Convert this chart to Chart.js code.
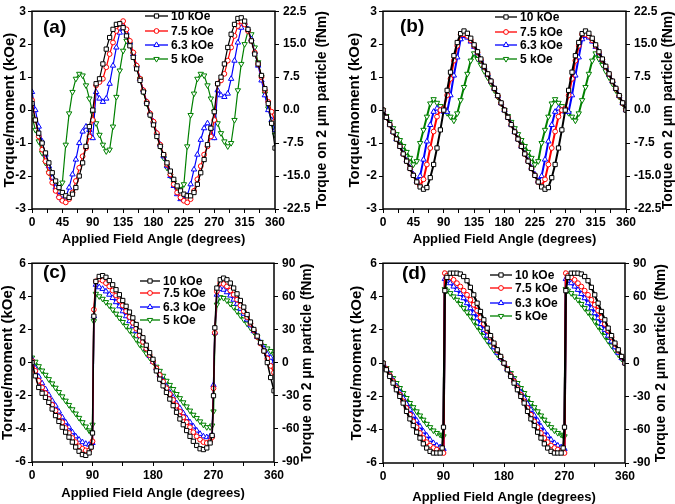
<!DOCTYPE html>
<html>
<head>
<meta charset="utf-8">
<script src="https://cdn.jsdelivr.net/npm/chart.js@4.4.1/dist/chart.umd.min.js"></script>
<style>
body{margin:0;width:675px;height:504px;overflow:hidden;background:#fff;position:relative}
.panel{position:absolute;width:337px;height:252px}
.panel canvas{display:block}
</style>
</head>
<body>
<div class="panel" style="left:0;top:0"><canvas id="chartA" width="337" height="252"></canvas></div>
<div class="panel" style="left:338px;top:0"><canvas id="chartB" width="337" height="252"></canvas></div>
<div class="panel" style="left:0;top:252px"><canvas id="chartC" width="337" height="252"></canvas></div>
<div class="panel" style="left:338px;top:252px"><canvas id="chartD" width="337" height="252"></canvas></div>
<script>
// applied field angle (degrees)
const anglesAB=[0,5,10,15,20,25,30,35,40,45,50,55,60,65,70,75,80,85,
90,95,100,105,110,115,120,125,130,135,140,145,150,155,160,165,170,175,
180,185,190,195,200,205,210,215,220,225,230,235,240,245,250,255,260,265,
270,275,280,285,290,295,300,305,310,315,320,325,330,335,340,345,350,355,
360];
const anglesCD=[0,5,10,15,20,25,30,35,40,45,50,55,60,65,70,75,80,85,
88,90,92,
95,100,105,110,115,120,125,130,135,140,145,150,155,160,165,170,175,
180,185,190,195,200,205,210,215,220,225,230,235,240,245,250,255,260,265,
268,270,272,
275,280,285,290,295,300,305,310,315,320,325,330,335,340,345,350,355,360];

// panel (a), torque/moment in kOe
const a10=[0.2,-0.3,-0.7,-1.0,-1.3,-1.6,-1.9,-2.15,-2.35,-2.5,-2.6,-2.65,-2.55,-2.35,-2.0,-1.6,-1.1,-0.5,
0.0,0.8,0.95,1.4,1.85,2.2,2.45,2.6,2.62,2.5,2.25,1.95,1.6,1.25,0.9,0.55,0.2,-0.15,
-0.45,-0.8,-1.1,-1.35,-1.6,-1.85,-2.1,-2.3,-2.45,-2.55,-2.6,-2.6,-2.5,-2.25,-1.9,-1.5,-1.05,-0.55,
-0.05,0.8,1.0,1.4,1.9,2.3,2.6,2.78,2.8,2.7,2.45,2.1,1.7,1.4,1.05,0.65,0.2,-0.4,
-1.15];
const a75=[0.3,-0.3,-0.8,-1.2,-1.55,-1.9,-2.2,-2.45,-2.65,-2.75,-2.8,-2.7,-2.5,-2.15,-1.75,-1.4,-1.15,-0.8,
-0.3,0.75,0.85,0.95,1.3,1.7,2.05,2.4,2.62,2.7,2.45,2.1,1.75,1.35,0.95,0.6,0.25,-0.1,
-0.35,-0.7,-1.05,-1.35,-1.65,-1.95,-2.25,-2.5,-2.65,-2.75,-2.8,-2.7,-2.45,-2.1,-1.7,-1.35,-1.1,-0.8,
-0.3,0.8,0.9,1.1,1.5,1.9,2.25,2.55,2.7,2.6,2.4,2.1,1.75,1.4,1.0,0.6,0.25,-0.05,
-0.35];
const a63=[0.55,0.0,-0.5,-0.95,-1.35,-1.7,-2.05,-2.35,-2.6,-2.72,-2.65,-2.35,-1.95,-1.5,-1.0,-0.65,-0.5,-0.6,
-0.85,0.55,0.35,0.25,0.35,0.8,1.35,1.9,2.35,2.5,2.35,2.05,1.7,1.35,0.95,0.6,0.25,-0.1,
-0.35,-0.7,-1.05,-1.4,-1.7,-2.0,-2.3,-2.55,-2.7,-2.72,-2.6,-2.25,-1.8,-1.35,-0.9,-0.55,-0.4,-0.55,
-0.85,0.6,0.45,0.4,0.5,0.95,1.5,2.05,2.5,2.65,2.45,2.15,1.75,1.35,0.9,0.45,0.0,-0.3,
-0.6];
const a5=[-0.2,-0.6,-0.95,-1.3,-1.6,-1.9,-2.1,-2.25,-2.35,-2.2,-1.05,-0.1,0.55,0.95,1.1,1.05,0.75,0.35,
-0.1,-0.4,-0.75,-1.05,-1.25,-1.2,-0.5,0.4,1.2,1.8,2.1,2.0,1.7,1.3,0.95,0.55,0.2,-0.15,
-0.4,-0.75,-1.1,-1.45,-1.75,-2.0,-2.2,-2.35,-2.4,-2.25,-1.1,-0.15,0.5,0.95,1.1,1.05,0.75,0.35,
-0.05,-0.4,-0.7,-0.95,-1.1,-1.0,-0.3,0.6,1.4,2.0,2.4,2.3,1.9,1.45,1.0,0.5,0.05,-0.4,
-0.75];

// panel (b)
const b10=[0,-0.22,-0.44,-0.66,-0.88,-1.1,-1.33,-1.55,-1.77,-1.98,-2.18,-2.33,-2.4,-2.35,-2.05,-1.65,-1.15,-0.6,
0.0,0.6,1.15,1.65,2.05,2.32,2.4,2.33,2.18,1.98,1.77,1.55,1.33,1.1,0.88,0.66,0.44,0.22,
0.0,-0.22,-0.44,-0.66,-0.88,-1.1,-1.33,-1.55,-1.77,-1.98,-2.18,-2.33,-2.4,-2.35,-2.05,-1.65,-1.15,-0.6,
0.0,0.6,1.15,1.65,2.05,2.32,2.4,2.33,2.18,1.98,1.77,1.55,1.33,1.1,0.88,0.66,0.44,0.22,
0.0];
const b75=[0,-0.22,-0.44,-0.66,-0.88,-1.1,-1.33,-1.55,-1.77,-1.98,-2.18,-2.3,-2.1,-1.65,-1.15,-0.65,-0.2,0.0,
0.05,0.45,0.95,1.5,1.95,2.3,2.3,2.25,2.12,1.95,1.75,1.53,1.31,1.09,0.87,0.65,0.43,0.21,
0.0,-0.22,-0.44,-0.66,-0.88,-1.1,-1.33,-1.55,-1.77,-1.98,-2.18,-2.3,-2.1,-1.65,-1.15,-0.65,-0.2,0.0,
0.05,0.45,0.95,1.5,1.95,2.3,2.3,2.25,2.12,1.95,1.75,1.53,1.31,1.09,0.87,0.65,0.43,0.21,
0.0];
const b63=[0,-0.22,-0.44,-0.66,-0.88,-1.1,-1.32,-1.53,-1.75,-1.95,-2.15,-2.0,-1.5,-0.95,-0.45,-0.05,0.05,0.0,
-0.05,-0.05,0.45,1.05,1.6,2.15,2.25,2.2,2.08,1.92,1.73,1.52,1.3,1.08,0.87,0.65,0.43,0.21,
0.0,-0.22,-0.44,-0.66,-0.88,-1.1,-1.32,-1.53,-1.75,-1.95,-2.15,-2.0,-1.5,-0.95,-0.45,-0.05,0.05,0.0,
-0.05,-0.05,0.45,1.05,1.6,2.15,2.25,2.2,2.08,1.92,1.73,1.52,1.3,1.08,0.87,0.65,0.43,0.21,
0.0];
const b5=[0,-0.18,-0.36,-0.55,-0.73,-0.91,-1.09,-1.27,-1.45,-1.65,-1.55,-1.0,-0.6,-0.2,0.2,0.33,0.22,0.12,
0.02,-0.09,-0.2,-0.32,-0.1,0.3,0.7,1.1,1.5,1.72,1.55,1.37,1.18,0.99,0.8,0.6,0.4,0.2,
0.0,-0.18,-0.36,-0.55,-0.73,-0.91,-1.09,-1.27,-1.45,-1.65,-1.55,-1.0,-0.6,-0.2,0.2,0.33,0.22,0.12,
0.02,-0.09,-0.2,-0.32,-0.1,0.3,0.7,1.1,1.5,1.72,1.55,1.37,1.18,0.99,0.8,0.6,0.4,0.2,
0.0];

// panel (c)
const c10=[0,-0.8,-1.5,-1.85,-2.1,-2.4,-2.8,-3.2,-3.55,-3.9,-4.2,-4.5,-4.8,-5.1,-5.35,-5.55,-5.6,-5.45,
-5.1,-4.25,2.8,
4.9,5.2,5.25,5.15,4.95,4.7,4.4,4.1,3.75,3.4,3.05,2.7,2.3,1.9,1.5,1.05,0.6,
0.2,-0.5,-1.0,-1.4,-1.8,-2.2,-2.6,-3.0,-3.4,-3.75,-4.1,-4.45,-4.75,-5.0,-5.2,-5.25,-5.15,-4.85,
-4.4,-2.0,2.1,
4.5,5.0,5.1,5.0,4.8,4.5,4.15,3.75,3.35,2.9,2.45,2.0,1.6,1.2,0.7,0.0,-0.9,-1.7];
const c75=[0.1,-0.5,-1.1,-1.5,-1.85,-2.2,-2.55,-2.9,-3.25,-3.6,-3.95,-4.25,-4.55,-4.8,-5.05,-5.2,-5.3,-5.3,
-5.1,-4.75,3.2,
4.9,5.05,4.95,4.8,4.6,4.35,4.05,3.75,3.45,3.1,2.75,2.4,2.05,1.65,1.25,0.85,0.45,
0.05,-0.35,-0.75,-1.15,-1.55,-1.9,-2.25,-2.6,-2.95,-3.3,-3.6,-3.9,-4.2,-4.45,-4.65,-4.8,-4.85,-4.75,
-4.5,-1.55,1.8,
4.3,4.8,4.75,4.6,4.35,4.1,3.8,3.45,3.1,2.75,2.35,1.95,1.55,1.15,0.7,0.25,-0.2,-0.6];
const c63=[0.2,-0.35,-0.85,-1.25,-1.6,-1.95,-2.3,-2.6,-2.95,-3.3,-3.6,-3.9,-4.2,-4.45,-4.65,-4.8,-4.9,-4.95,
-4.95,-4.85,2.8,
4.7,4.55,4.45,4.3,4.1,3.9,3.65,3.4,3.1,2.8,2.5,2.2,1.9,1.6,1.35,0.85,0.4,
0.05,-0.35,-0.75,-1.1,-1.45,-1.8,-2.1,-2.45,-2.75,-3.05,-3.35,-3.6,-3.85,-4.1,-4.3,-4.45,-4.5,-4.45,
-4.35,-1.35,1.8,
4.1,4.45,4.4,4.25,4.05,3.8,3.55,3.25,2.95,2.6,2.25,1.9,1.55,1.2,0.85,0.5,0.3,0.0];
const c5=[0.3,0.05,-0.22,-0.48,-0.74,-1.0,-1.26,-1.52,-1.78,-2.04,-2.3,-2.56,-2.82,-3.08,-3.34,-3.6,-3.86,-4.1,
-4.2,-3.75,2.5,
4.15,4.0,3.85,3.65,3.45,3.2,2.95,2.7,2.45,2.2,1.95,1.7,1.4,1.1,0.85,0.55,0.3,
0.05,-0.25,-0.5,-0.8,-1.1,-1.35,-1.6,-1.9,-2.15,-2.4,-2.65,-2.9,-3.15,-3.35,-3.55,-3.75,-3.9,-3.9,
-3.8,-2.95,1.7,
3.5,3.95,3.9,3.75,3.55,3.35,3.1,2.85,2.6,2.35,2.1,1.85,1.55,1.25,1.0,0.85,0.7,0.5];

// panel (d)
const d10=[0,-0.4,-0.8,-1.2,-1.6,-2.0,-2.4,-2.9,-3.35,-3.75,-4.15,-4.5,-4.85,-5.1,-5.3,-5.4,-5.4,-5.4,
-5.1,-3.85,4.35,
5.15,5.4,5.4,5.4,5.35,5.2,4.95,4.55,4.1,3.6,3.1,2.6,2.1,1.65,1.2,0.8,0.4,
0,-0.4,-0.8,-1.2,-1.6,-2.0,-2.4,-2.9,-3.35,-3.75,-4.15,-4.5,-4.85,-5.1,-5.3,-5.4,-5.4,-5.4,
-5.1,-3.85,4.35,
5.15,5.4,5.4,5.4,5.35,5.2,4.95,4.55,4.1,3.6,3.1,2.6,2.1,1.65,1.2,0.8,0.4,0];
const d75=[0,-0.35,-0.72,-1.1,-1.5,-1.9,-2.3,-2.7,-3.1,-3.5,-3.85,-4.2,-4.5,-4.75,-4.95,-5.1,-5.2,-5.3,
-5.35,-5.4,5.4,
5.25,5.15,5.0,4.8,4.6,4.35,4.1,3.8,3.5,3.15,2.75,2.35,1.95,1.55,1.15,0.75,0.38,
0,-0.35,-0.72,-1.1,-1.5,-1.9,-2.3,-2.7,-3.1,-3.5,-3.85,-4.2,-4.5,-4.75,-4.95,-5.1,-5.2,-5.3,
-5.35,-5.4,5.4,
5.25,5.15,5.0,4.8,4.6,4.35,4.1,3.8,3.5,3.15,2.75,2.35,1.95,1.55,1.15,0.75,0.38,0];
const d63=[0,-0.35,-0.7,-1.05,-1.4,-1.75,-2.1,-2.45,-2.8,-3.15,-3.45,-3.8,-4.1,-4.35,-4.6,-4.8,-4.95,-5.05,
-5.1,-5.15,5.05,
4.95,4.8,4.6,4.4,4.15,3.9,3.6,3.3,3.0,2.7,2.35,2.0,1.65,1.3,0.95,0.62,0.3,
0,-0.35,-0.7,-1.05,-1.4,-1.75,-2.1,-2.45,-2.8,-3.15,-3.45,-3.8,-4.1,-4.35,-4.6,-4.8,-4.95,-5.05,
-5.1,-5.15,5.05,
4.95,4.8,4.6,4.4,4.15,3.9,3.6,3.3,3.0,2.7,2.35,2.0,1.65,1.3,0.95,0.62,0.3,0];
const d5=[0,-0.3,-0.6,-0.9,-1.2,-1.5,-1.8,-2.1,-2.4,-2.65,-2.9,-3.15,-3.4,-3.65,-3.85,-4.05,-4.2,-4.3,
-4.35,-4.4,4.45,
4.35,4.2,4.0,3.8,3.55,3.3,3.05,2.8,2.5,2.2,1.92,1.62,1.33,1.05,0.78,0.52,0.26,
0,-0.3,-0.6,-0.9,-1.2,-1.5,-1.8,-2.1,-2.4,-2.65,-2.9,-3.15,-3.4,-3.65,-3.85,-4.05,-4.2,-4.3,
-4.35,-4.4,4.45,
4.35,4.2,4.0,3.8,3.55,3.3,3.05,2.8,2.5,2.2,1.92,1.62,1.33,1.05,0.78,0.52,0.26,0];

const fieldLabels=["10 kOe","7.5 kOe","6.3 kOe","5 kOe"];
const colors=["#000000","#ff0000","#0000ff","#008000"];
const markers=["rect","circle","triangle","triangle"];
const rotations=[0,0,0,180];
const radii=[3,2.4,3.1,3.1];

const xTitle="Applied Field Angle (degrees)";
const leftTitle="Torque/moment (kOe)";
const rightTitle="Torque on 2 \u03bcm particle (fNm)";
const FONT="'Liberation Sans', Arial, sans-serif";

const panels=[
{id:"chartA",tag:"(a)",angles:anglesAB,series:[a10,a75,a63,a5],yMax:3,yStep:1,rMax:22.5,rStep:7.5,xStep:22.5,xLab:45,lw:1.2,
 area:{l:32,r:275,t:7,b:209},lt:10,rt:322,xt:239,tagX:43,tagY:28,leg:{x1:145,x2:168,tx:171,rows:[16,31,45,59]}},
{id:"chartB",tag:"(b)",angles:anglesAB,series:[b10,b75,b63,b5],yMax:3,yStep:1,rMax:22.5,rStep:7.5,xStep:22.5,xLab:45,lw:2,
 area:{l:45,r:288,t:7,b:209},lt:17,rt:330,xt:239,tagX:62,tagY:27,leg:{x1:157,x2:179,tx:182,rows:[17,32,45,59]}},
{id:"chartC",tag:"(c)",angles:anglesCD,series:[c10,c75,c63,c5],yMax:6,yStep:2,rMax:90,rStep:30,xStep:45,xLab:90,lw:1.5,
 area:{l:32,r:274,t:9,b:210},lt:8,rt:307,xt:241,tagX:43,tagY:21,leg:{x1:140,x2:160,tx:163,rows:[29,41,55,68]}},
{id:"chartD",tag:"(d)",angles:anglesCD,series:[d10,d75,d63,d5],yMax:6,yStep:2,rMax:90,rStep:30,xStep:45,xLab:90,lw:2.2,
 area:{l:45,r:287,t:9,b:211},lt:19,rt:323,xt:245,tagX:64,tagY:22,leg:{x1:152,x2:174,tx:177,rows:[23,36,51,64]}}
];

function vertText(ctx,txt,x,y){
ctx.save();
ctx.translate(x,y);
ctx.rotate(-Math.PI/2);
ctx.fillText(txt,0,0);
ctx.restore();
}

function decor(p){
return {
id:"decor",
afterDraw(chart){
const ctx=chart.ctx,a=chart.chartArea;
ctx.save();
ctx.strokeStyle="#000";ctx.lineWidth=1.5;
ctx.strokeRect(a.left,a.top,a.right-a.left,a.bottom-a.top);
ctx.fillStyle="#000";
ctx.textAlign="center";ctx.textBaseline="middle";
ctx.font="bold 13px "+FONT;
ctx.fillText(xTitle,(a.left+a.right)/2,p.xt);
ctx.font="bold 15px "+FONT;
vertText(ctx,leftTitle,p.lt,(a.top+a.bottom)/2);
ctx.font="bold 14px "+FONT;
vertText(ctx,rightTitle,p.rt,(a.top+a.bottom)/2);
ctx.textAlign="left";
ctx.font="bold 19px "+FONT;
ctx.fillText(p.tag,p.tagX,p.tagY);
// legend
ctx.font="bold 12px "+FONT;
p.leg.rows.forEach((y,i)=>{
ctx.strokeStyle=colors[i];ctx.lineWidth=1.3;
ctx.beginPath();ctx.moveTo(p.leg.x1,y);ctx.lineTo(p.leg.x2,y);ctx.stroke();
ctx.fillStyle="#fff";ctx.lineWidth=1;
Chart.helpers.drawPoint(ctx,{pointStyle:markers[i],radius:radii[i],rotation:rotations[i],borderWidth:1},(p.leg.x1+p.leg.x2)/2,y);
ctx.fillStyle="#000";
ctx.fillText(fieldLabels[i],p.leg.tx,y+0.5);
});
ctx.restore();
}
};
}

const tickFont={family:FONT,size:12,weight:"bold"};

panels.forEach(p=>{
const W=337,H=252;
new Chart(document.getElementById(p.id),{
type:"line",
data:{
datasets:p.series.map((vals,i)=>({
label:fieldLabels[i],
data:p.angles.map((ang,j)=>({x:ang,y:vals[j]})),
borderColor:colors[i],
backgroundColor:"#fff",
pointBackgroundColor:"#fff",
pointBorderColor:colors[i],
pointStyle:markers[i],
pointRotation:rotations[i],
pointRadius:radii[i],
pointBorderWidth:1,
borderWidth:p.lw,
tension:0,
yAxisID:"y"
}))
},
options:{
responsive:false,
animation:false,
devicePixelRatio:1,
layout:{autoPadding:false,padding:{top:p.area.t,left:0,right:0,bottom:0}},
plugins:{legend:{display:false},tooltip:{enabled:false}},
scales:{
x:{type:"linear",position:"bottom",min:0,max:360,
ticks:{stepSize:p.xStep,autoSkip:false,maxRotation:0,padding:2,color:"#000",font:tickFont,
callback:v=>v%p.xLab===0?String(v):""},
grid:{drawOnChartArea:false,tickLength:4,color:"#000",tickWidth:1},
border:{display:false},
afterFit:s=>{s.height=H-p.area.b;}},
y:{type:"linear",position:"left",min:-p.yMax,max:p.yMax,
ticks:{stepSize:p.yStep,padding:2,color:"#000",font:tickFont},
grid:{drawOnChartArea:false,tickLength:4,color:"#000",tickWidth:1},
border:{display:false},
afterFit:s=>{s.width=p.area.l;}},
y2:{type:"linear",position:"right",display:true,min:-p.rMax,max:p.rMax,
ticks:{stepSize:p.rStep,padding:4,color:"#000",font:tickFont,
callback:v=>p.rStep%1?v.toFixed(1):String(v)},
grid:{drawOnChartArea:false,tickLength:4,color:"#000",tickWidth:1},
border:{display:false},
afterFit:s=>{s.width=W-p.area.r;}}
}
},
plugins:[decor(p)]
});
});
</script>
</body>
</html>
